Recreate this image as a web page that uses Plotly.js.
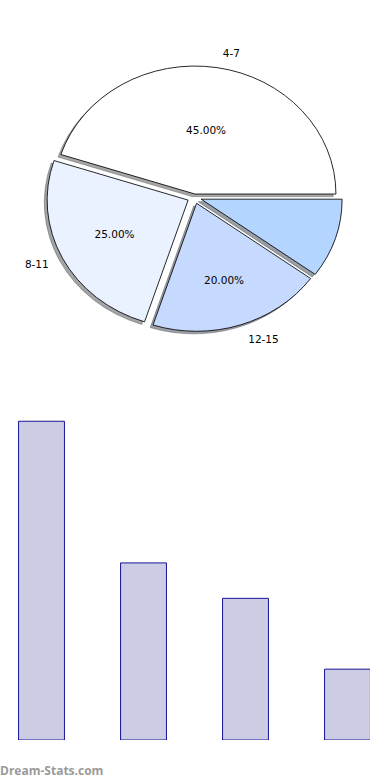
<!DOCTYPE html>
<html>
<head>
<meta charset="utf-8">
<script src="https://cdn.plot.ly/plotly-3.0.1.min.js"></script>
<style>
html,body{margin:0;padding:0;background:#ffffff;}
#chart{width:390px;height:780px;}
</style>
</head>
<body>
<div id="chart"></div>
<script>
// ---- data ----
const ageGroups = ['4-7', '8-11', '12-15', ''];
const shares = [45, 25, 20, 10];
const showPercent = [true, true, true, false];
const explode = [0.025, 0.05, 0.05, 0.05];
const sliceColors = ['#ffffff', '#eaf2ff', '#c6d9ff', '#b4d5ff'];
const barValues = [45, 25, 20, 10];

// ---- geometry / style ----
const W = 390, H = 780;
const pieCx = 194.4, pieCy = 197.2, pieRx = 141, pieRy = 128;
const sx = pieRx / pieRy;
const maxPull = Math.max(...explode);
const half = pieRy * (1 + maxPull);
function dom(cx, cy, k) {
  const h = half * (k || 1);
  return {x: [(cx - h) / W, (cx + h) / W], y: [1 - (cy + h) / H, 1 - (cy - h) / H]};
}
const total = shares.reduce((a, b) => a + b, 0);
// first slice starts at 3 o'clock and runs counter-clockwise (plotly places the first slice clockwise of `rotation`)
const startRotation = 90 - 360 * shares[0] / total;
const shadowDx = -0.02 * pieRx / sx, shadowDy = 0.02 * pieRy;
function shadowColor(hex) {
  const n = parseInt(hex.slice(1), 16);
  const r = Math.round(0.3 * ((n >> 16) & 255)), g = Math.round(0.3 * ((n >> 8) & 255)), b = Math.round(0.3 * (n & 255));
  return 'rgba(' + r + ',' + g + ',' + b + ',0.5)';
}
const shadowCols = sliceColors.map(shadowColor);
const txtFont = {family: 'DejaVu Sans', size: 10.5, color: '#000000'};

const common = {
  type: 'pie', values: shares, sort: false, direction: 'counterclockwise',
  rotation: startRotation, pull: explode, hoverinfo: 'skip', showlegend: false
};

const shadowTrace = Object.assign({}, common, {
  domain: dom(pieCx + shadowDx, pieCy + shadowDy),
  marker: {colors: shadowCols, line: {color: shadowCols, width: 0.8}},
  textinfo: 'none'
});

const mainTrace = Object.assign({}, common, {
  domain: dom(pieCx, pieCy),
  marker: {colors: sliceColors, line: {color: '#000000', width: 0.8}},
  texttemplate: showPercent.map(s => s ? '%{percent:.2%}' : ''),
  textposition: 'inside',
  insidetextorientation: 'horizontal',
  insidetextfont: txtFont
});

// invisible ring slightly larger than the pie, carrying the outside category labels
const labelTrace = Object.assign({}, common, {
  domain: dom(pieCx, pieCy, 1.07),
  marker: {colors: ageGroups.map(() => 'rgba(0,0,0,0)'), line: {width: 0}},
  text: ageGroups,
  textinfo: 'text',
  textposition: 'outside',
  outsidetextfont: txtFont
});

const barTrace = {
  type: 'bar',
  x: ageGroups.map((_, i) => i),
  y: barValues,
  width: 0.45,
  marker: {color: 'rgb(204,204,229)', line: {color: 'rgb(20,20,150)', width: 1}},
  hoverinfo: 'skip', showlegend: false
};

const layout = {
  width: W, height: H,
  margin: {l: 0, r: 0, t: 0, b: 0},
  paper_bgcolor: '#ffffff', plot_bgcolor: '#ffffff',
  showlegend: false,
  xaxis: {domain: [0, 370 / W], range: [-41.5 / 102, (370 - 41.5) / 102], visible: false},
  yaxis: {domain: [40 / H, 380 / H], range: [0, 48], visible: false},
  annotations: [{
    text: 'Dream-Stats.com', xref: 'paper', yref: 'paper', x: 0, y: 10 / H,
    xanchor: 'left', yanchor: 'middle', showarrow: false, xshift: -2,
    font: {family: 'Open Sans', size: 12, color: '#9a9a9a', weight: 700}
  }]
};

Plotly.newPlot('chart', [shadowTrace, mainTrace, labelTrace, barTrace], layout, {staticPlot: true}).then(function(gd) {
  const layer = gd.querySelector('.pielayer');
  if (!layer) return;
  const cd = gd.calcdata[1][0];
  const cx = cd.cx, cy = cd.cy;
  layer.setAttribute('transform', 'translate(' + cx + ',' + cy + ') scale(' + sx + ',1) translate(' + (-cx) + ',' + (-cy) + ')');
  layer.querySelectorAll('g.slicetext').forEach(function(g) {
    const b = g.getBBox();
    const tx = b.x + b.width / 2, ty = b.y + b.height / 2;
    g.setAttribute('transform', 'translate(' + tx + ',' + ty + ') scale(' + (1 / sx) + ',1) translate(' + (-tx) + ',' + (-ty) + ')');
  });
});
</script>
</body>
</html>
